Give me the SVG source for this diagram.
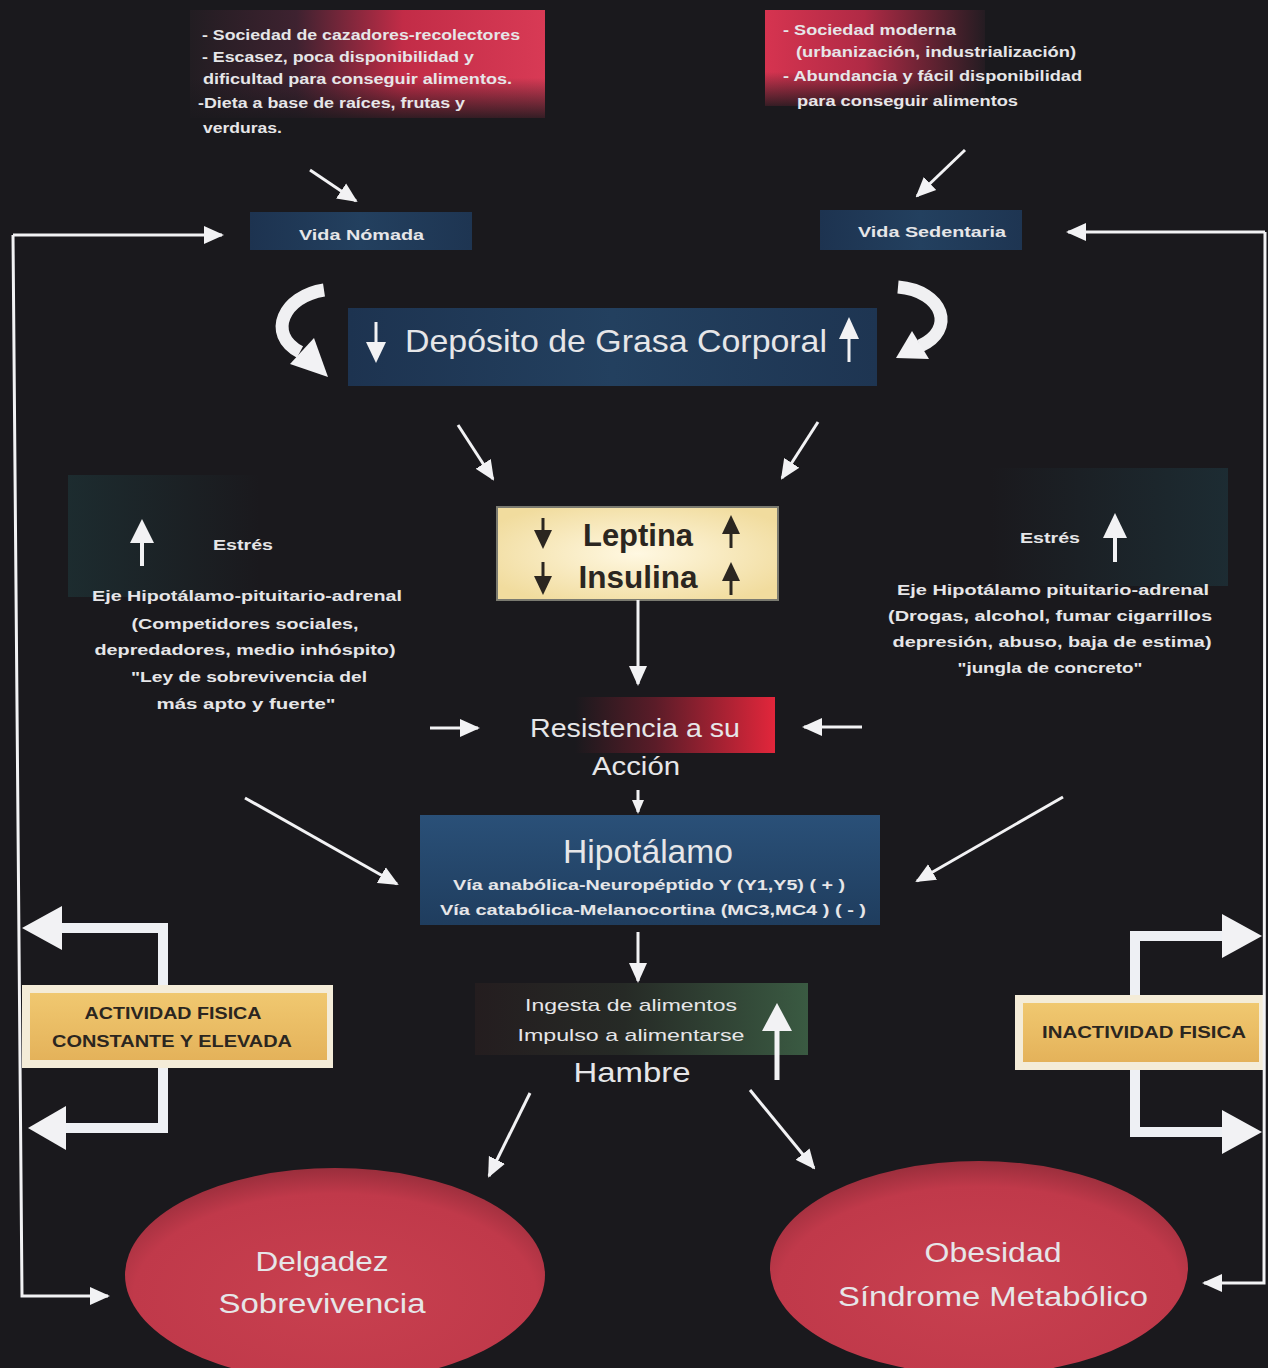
<svg xmlns="http://www.w3.org/2000/svg" width="1268" height="1368" viewBox="0 0 1268 1368">
<defs>
<style>
.t{font-family:"Liberation Sans",Arial,sans-serif;fill:#e6e6e8}
.b{font-weight:bold}
.c{text-anchor:middle}
.dk{fill:#2b2620}
.ln{stroke:#f2f2f4;stroke-width:3;fill:none}
.thick{stroke:#eef0f4;stroke-width:10;fill:none;stroke-linejoin:miter}
.hd{fill:#f2f2f4}
.dhd{fill:#2b2620}
</style>
<marker id="ah" markerUnits="userSpaceOnUse" markerWidth="20" markerHeight="20" refX="18" refY="10" orient="auto">
<path d="M0,1 L20,10 L0,19 z" fill="#f2f2f4"/>
</marker>
<marker id="ahS" markerUnits="userSpaceOnUse" markerWidth="14" markerHeight="14" refX="12" refY="7" orient="auto">
<path d="M0,1 L14,7 L0,13 z" fill="#f2f2f4"/>
</marker>
<linearGradient id="gTL" x1="0" x2="1" y1="0" y2="0">
<stop offset="0" stop-color="#221d22"/>
<stop offset="0.3" stop-color="#3e2230"/>
<stop offset="0.6" stop-color="#c22c47"/>
<stop offset="1" stop-color="#d83a55"/>
</linearGradient>
<linearGradient id="gTR" x1="0" x2="1" y1="0" y2="0">
<stop offset="0" stop-color="#d63450"/>
<stop offset="0.45" stop-color="#b02a45"/>
<stop offset="1" stop-color="#241c22"/>
</linearGradient>
<linearGradient id="fadeDown" x1="0" x2="0" y1="0" y2="1">
<stop offset="0" stop-color="#1a191d" stop-opacity="0"/>
<stop offset="1" stop-color="#1a191d" stop-opacity="0.9"/>
</linearGradient>
<linearGradient id="gBlue" x1="0" x2="1" y1="0" y2="0">
<stop offset="0" stop-color="#1d3350"/>
<stop offset="0.5" stop-color="#23405f"/>
<stop offset="1" stop-color="#1e3552"/>
</linearGradient>
<linearGradient id="gHip" x1="0" x2="0" y1="0" y2="1">
<stop offset="0" stop-color="#2a5078"/>
<stop offset="1" stop-color="#1f3d5e"/>
</linearGradient>
<radialGradient id="gCream" cx="0.5" cy="0.5" r="0.6">
<stop offset="0" stop-color="#fff8e2"/>
<stop offset="1" stop-color="#f1dc9e"/>
</radialGradient>
<linearGradient id="gRes" x1="0" x2="1" y1="0" y2="0">
<stop offset="0" stop-color="#1a191d"/>
<stop offset="0.4" stop-color="#5a1c28"/>
<stop offset="1" stop-color="#e2263b"/>
</linearGradient>
<linearGradient id="gIng" x1="0" x2="1" y1="0" y2="0">
<stop offset="0" stop-color="#241d1f"/>
<stop offset="0.45" stop-color="#262a26"/>
<stop offset="1" stop-color="#3a5a42"/>
</linearGradient>
<linearGradient id="gTeal" x1="0" x2="1" y1="0" y2="0">
<stop offset="0" stop-color="#1f3b3e" stop-opacity="0.55"/>
<stop offset="1" stop-color="#1f3b3e" stop-opacity="0"/>
</linearGradient>
<linearGradient id="gTeal2" x1="1" x2="0" y1="0" y2="0">
<stop offset="0" stop-color="#1f3b44" stop-opacity="0.55"/>
<stop offset="1" stop-color="#1f3b44" stop-opacity="0"/>
</linearGradient>
<linearGradient id="gGold" x1="0" x2="0" y1="0" y2="1">
<stop offset="0" stop-color="#f0c870"/>
<stop offset="1" stop-color="#e4b25a"/>
</linearGradient>
<radialGradient id="gEll" cx="0.5" cy="0.6" r="0.6">
<stop offset="0" stop-color="#c8404f"/>
<stop offset="0.8" stop-color="#c0394a"/>
<stop offset="1" stop-color="#9a2e3c"/>
</radialGradient>
</defs>

<rect x="0" y="0" width="1268" height="1368" fill="#1a191d"/>

<!-- Stress background panels -->
<rect x="68" y="475" width="192" height="122" fill="url(#gTeal)"/>
<rect x="990" y="468" width="238" height="118" fill="url(#gTeal2)"/>

<g id="node-cazadores">
<rect x="190" y="10" width="355" height="108" fill="url(#gTL)"/>
<rect x="190" y="78" width="355" height="42" fill="url(#fadeDown)"/>
<text class="t b" font-size="14" x="202" y="40" textLength="318" lengthAdjust="spacingAndGlyphs">- Sociedad de cazadores-recolectores</text>
<text class="t b" font-size="14" x="202" y="62" textLength="272" lengthAdjust="spacingAndGlyphs">- Escasez, poca disponibilidad y</text>
<text class="t b" font-size="14" x="203" y="84" textLength="309" lengthAdjust="spacingAndGlyphs">dificultad para conseguir alimentos.</text>
<text class="t b" font-size="14" x="198" y="108" textLength="267" lengthAdjust="spacingAndGlyphs">-Dieta a base de raíces, frutas y</text>
<text class="t b" font-size="14" x="203" y="133" textLength="79" lengthAdjust="spacingAndGlyphs">verduras.</text>
</g>

<g id="node-moderna">
<rect x="765" y="10" width="220" height="96" fill="url(#gTR)"/>
<rect x="765" y="72" width="220" height="36" fill="url(#fadeDown)"/>
<text class="t b" font-size="14" x="783" y="35" textLength="173" lengthAdjust="spacingAndGlyphs">- Sociedad moderna</text>
<text class="t b" font-size="14" x="796" y="57" textLength="280" lengthAdjust="spacingAndGlyphs">(urbanización, industrialización)</text>
<text class="t b" font-size="14" x="783" y="81" textLength="299" lengthAdjust="spacingAndGlyphs">- Abundancia y fácil disponibilidad</text>
<text class="t b" font-size="14" x="797" y="106" textLength="221" lengthAdjust="spacingAndGlyphs">para conseguir alimentos</text>
</g>

<g id="node-vida-nomada">
<rect x="250" y="212" width="222" height="38" fill="url(#gBlue)"/>
<text class="t b" font-size="15" x="299" y="240" textLength="125" lengthAdjust="spacingAndGlyphs">Vida Nómada</text>
</g>

<g id="node-vida-sedentaria">
<rect x="820" y="210" width="202" height="40" fill="url(#gBlue)"/>
<text class="t b" font-size="15" x="858" y="237" textLength="148" lengthAdjust="spacingAndGlyphs">Vida Sedentaria</text>
</g>

<g id="node-deposito">
<rect x="348" y="308" width="529" height="78" fill="url(#gBlue)"/>
<text class="t" font-size="32" x="405" y="352" textLength="422" lengthAdjust="spacingAndGlyphs">Depósito de Grasa Corporal</text>
<line x1="376" y1="322" x2="376" y2="345" stroke="#f2f2f4" stroke-width="3"/>
<polygon class="hd" points="366,342 386,342 376,363"/>
<line x1="849" y1="336" x2="849" y2="362" stroke="#f2f2f4" stroke-width="3"/>
<polygon class="hd" points="839,339 859,339 849,317"/>
</g>

<g id="cycle-arrows">
<path d="M324,290 C284,296 266,334 300,352" stroke="#f0f0f2" stroke-width="13" fill="none"/>
<polygon class="hd" points="290,364 314,338 328,377"/>
<path d="M898,287 C944,291 956,330 920,346" stroke="#f0f0f2" stroke-width="13" fill="none"/>
<polygon class="hd" points="912,331 929,359 896,358"/>
</g>

<g id="node-estres-izq">
<line x1="142" y1="566" x2="142" y2="540" stroke="#f2f2f4" stroke-width="4"/>
<polygon class="hd" points="130,543 154,543 142,519"/>
<text class="t b" font-size="15" x="213" y="550" textLength="60" lengthAdjust="spacingAndGlyphs">Estrés</text>
<text class="t b c" font-size="14" x="247" y="601" textLength="310" lengthAdjust="spacingAndGlyphs">Eje Hipotálamo-pituitario-adrenal</text>
<text class="t b c" font-size="14" x="245" y="629" textLength="227" lengthAdjust="spacingAndGlyphs">(Competidores  sociales,</text>
<text class="t b c" font-size="14" x="245" y="655" textLength="301" lengthAdjust="spacingAndGlyphs">depredadores, medio inhóspito)</text>
<text class="t b c" font-size="14" x="249" y="682" textLength="236" lengthAdjust="spacingAndGlyphs">"Ley de sobrevivencia del</text>
<text class="t b c" font-size="14" x="246" y="709" textLength="179" lengthAdjust="spacingAndGlyphs">más apto y fuerte"</text>
</g>

<g id="node-estres-der">
<text class="t b" font-size="15" x="1020" y="543" textLength="60" lengthAdjust="spacingAndGlyphs">Estrés</text>
<line x1="1115" y1="562" x2="1115" y2="535" stroke="#f2f2f4" stroke-width="4"/>
<polygon class="hd" points="1103,538 1127,538 1115,513"/>
<text class="t b c" font-size="14" x="1053" y="595" textLength="312" lengthAdjust="spacingAndGlyphs">Eje Hipotálamo pituitario-adrenal</text>
<text class="t b c" font-size="14" x="1050" y="621" textLength="324" lengthAdjust="spacingAndGlyphs">(Drogas, alcohol, fumar cigarrillos</text>
<text class="t b c" font-size="14" x="1052" y="647" textLength="319" lengthAdjust="spacingAndGlyphs">depresión, abuso, baja de estima)</text>
<text class="t b c" font-size="14" x="1050" y="673" textLength="185" lengthAdjust="spacingAndGlyphs">"jungla de concreto"</text>
</g>

<g id="node-leptina">
<rect x="497" y="507" width="281" height="93" fill="url(#gCream)" stroke="#7a7a70" stroke-width="2"/>
<text class="t b c dk" font-size="31" x="638" y="546" textLength="110" lengthAdjust="spacingAndGlyphs">Leptina</text>
<text class="t b c dk" font-size="31" x="638" y="588" textLength="119" lengthAdjust="spacingAndGlyphs">Insulina</text>
<line x1="543" y1="518" x2="543" y2="533" stroke="#2b2620" stroke-width="3"/>
<polygon class="dhd" points="534,530 552,530 543,549"/>
<line x1="543" y1="562" x2="543" y2="578" stroke="#2b2620" stroke-width="3"/>
<polygon class="dhd" points="534,576 552,576 543,595"/>
<line x1="731" y1="532" x2="731" y2="548" stroke="#2b2620" stroke-width="3"/>
<polygon class="dhd" points="722,534 740,534 731,515"/>
<line x1="731" y1="578" x2="731" y2="595" stroke="#2b2620" stroke-width="3"/>
<polygon class="dhd" points="722,581 740,581 731,562"/>
</g>

<g id="node-resistencia">
<rect x="575" y="697" width="200" height="56" fill="url(#gRes)"/>
<text class="t c" font-size="26" x="635" y="737" textLength="210" lengthAdjust="spacingAndGlyphs">Resistencia a su</text>
<text class="t c" font-size="26" x="636" y="775" textLength="88" lengthAdjust="spacingAndGlyphs">Acción</text>
</g>

<g id="node-hipotalamo">
<rect x="420" y="815" width="460" height="110" fill="url(#gHip)"/>
<text class="t c" font-size="33" x="648" y="863" textLength="170" lengthAdjust="spacingAndGlyphs">Hipotálamo</text>
<text class="t b c" font-size="14" x="649" y="890" textLength="392" lengthAdjust="spacingAndGlyphs">Vía anabólica-Neuropéptido Y (Y1,Y5) ( + )</text>
<text class="t b c" font-size="14" x="653" y="915" textLength="426" lengthAdjust="spacingAndGlyphs">Vía catabólica-Melanocortina (MC3,MC4 ) ( - )</text>
</g>

<g id="node-ingesta">
<rect x="475" y="983" width="333" height="72" fill="url(#gIng)"/>
<text class="t c" font-size="17" x="631" y="1011" textLength="212" lengthAdjust="spacingAndGlyphs">Ingesta de alimentos</text>
<text class="t c" font-size="17" x="631" y="1041" textLength="227" lengthAdjust="spacingAndGlyphs">Impulso a alimentarse</text>
<text class="t c" font-size="28" x="632" y="1082" textLength="117" lengthAdjust="spacingAndGlyphs">Hambre</text>
<line x1="777" y1="1080" x2="777" y2="1028" stroke="#f2f2f4" stroke-width="5"/>
<polygon class="hd" points="762,1031 792,1031 777,1003"/>
</g>

<g id="node-actividad">
<rect x="22" y="985" width="311" height="83" fill="#f4ecd8"/>
<rect x="30" y="993" width="297" height="67" fill="url(#gGold)"/>
<text class="t b c dk" font-size="17" x="173" y="1019" textLength="177" lengthAdjust="spacingAndGlyphs">ACTIVIDAD FISICA</text>
<text class="t b c dk" font-size="17" x="172" y="1047" textLength="240" lengthAdjust="spacingAndGlyphs">CONSTANTE Y ELEVADA</text>
</g>

<g id="node-inactividad">
<rect x="1015" y="995" width="250" height="75" fill="#f4ecd8"/>
<rect x="1023" y="1003" width="236" height="59" fill="url(#gGold)"/>
<text class="t b c dk" font-size="17" x="1144" y="1038" textLength="204" lengthAdjust="spacingAndGlyphs">INACTIVIDAD  FISICA</text>
</g>

<g id="node-delgadez">
<ellipse cx="335" cy="1275" rx="210" ry="107" fill="url(#gEll)"/>
<text class="t c" font-size="27" x="322" y="1271" fill="#dcdcdc" textLength="133" lengthAdjust="spacingAndGlyphs">Delgadez</text>
<text class="t c" font-size="27" x="322" y="1313" fill="#dcdcdc" textLength="207" lengthAdjust="spacingAndGlyphs">Sobrevivencia</text>
</g>

<g id="node-obesidad">
<ellipse cx="979" cy="1268" rx="209" ry="107" fill="url(#gEll)"/>
<text class="t c" font-size="27" x="993" y="1262" fill="#dcdcdc" textLength="137" lengthAdjust="spacingAndGlyphs">Obesidad</text>
<text class="t c" font-size="27" x="993" y="1306" fill="#dcdcdc" textLength="310" lengthAdjust="spacingAndGlyphs">Síndrome Metabólico</text>
</g>

<g id="connectors">
<line class="ln" x1="310" y1="170" x2="356" y2="201" marker-end="url(#ah)"/>
<line class="ln" x1="965" y1="150" x2="917" y2="196" marker-end="url(#ah)"/>
<path class="ln" d="M13,235 L222,235" marker-end="url(#ah)"/>
<path class="ln" d="M13,235 L22,1296 L108,1296" marker-end="url(#ah)"/>
<path class="ln" d="M1265,232 L1068,232" marker-end="url(#ah)"/>
<path class="ln" d="M1265,232 L1264,1283 L1204,1283" marker-end="url(#ah)"/>
<line class="ln" x1="458" y1="425" x2="493" y2="479" marker-end="url(#ah)"/>
<line class="ln" x1="818" y1="422" x2="782" y2="478" marker-end="url(#ah)"/>
<line class="ln" x1="638" y1="600" x2="638" y2="684" marker-end="url(#ah)"/>
<line class="ln" x1="430" y1="728" x2="478" y2="728" marker-end="url(#ah)"/>
<line class="ln" x1="862" y1="727" x2="804" y2="727" marker-end="url(#ah)"/>
<line class="ln" x1="638" y1="790" x2="638" y2="812" marker-end="url(#ahS)"/>
<line class="ln" x1="245" y1="798" x2="397" y2="884" marker-end="url(#ah)"/>
<line class="ln" x1="1063" y1="797" x2="917" y2="881" marker-end="url(#ah)"/>
<line class="ln" x1="638" y1="932" x2="638" y2="981" marker-end="url(#ah)"/>
<line class="ln" x1="530" y1="1093" x2="489" y2="1176" marker-end="url(#ah)"/>
<line class="ln" x1="750" y1="1090" x2="814" y2="1168" marker-end="url(#ah)"/>
<path class="thick" d="M163,985 L163,928 L58,928"/>
<polygon class="hd" points="22,928 62,906 62,950"/>
<path class="thick" d="M163,1068 L163,1128 L62,1128"/>
<polygon class="hd" points="28,1128 66,1106 66,1150"/>
<path class="thick" d="M1135,995 L1135,936 L1226,936"/>
<polygon class="hd" points="1262,936 1222,914 1222,958"/>
<path class="thick" d="M1135,1070 L1135,1132 L1226,1132"/>
<polygon class="hd" points="1262,1132 1222,1110 1222,1154"/>
</g>
</svg>
